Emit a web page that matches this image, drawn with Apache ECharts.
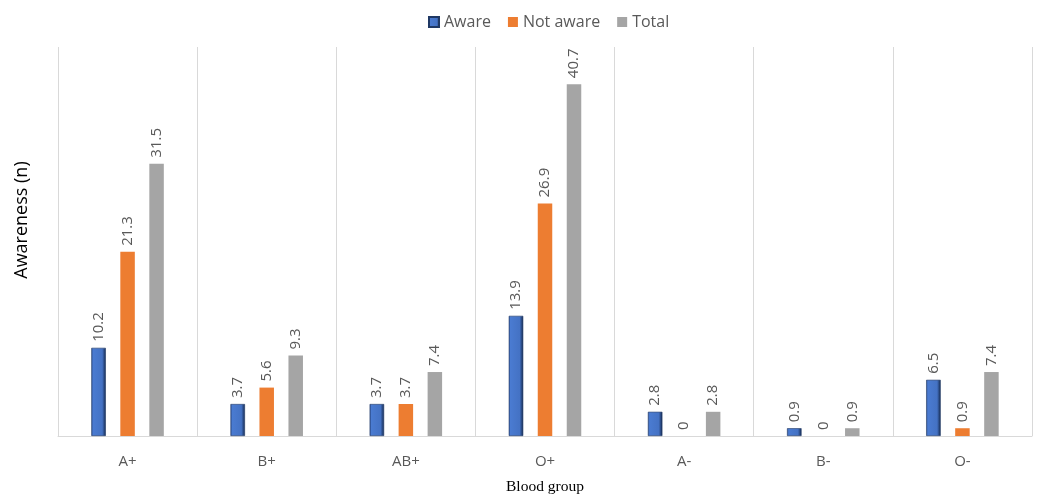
<!DOCTYPE html>
<html>
<head>
<meta charset="utf-8">
<script src="https://cdn.jsdelivr.net/npm/echarts@6/dist/echarts.min.js"></script>
<style>html,body{margin:0;padding:0;background:#fff;}#c{width:1040px;height:500px;}</style>
</head>
<body>
<div id="c"></div>
<script>
const categories = ['A+', 'B+', 'AB+', 'O+', 'A-', 'B-', 'O-'];
const aware = [10.2, 3.7, 3.7, 13.9, 2.8, 0.9, 6.5];
const notAware = [21.3, 5.6, 3.7, 26.9, 0, 0, 0.9];
const total = [31.5, 9.3, 7.4, 40.7, 2.8, 0.9, 7.4];

const chart = echarts.init(document.getElementById('c'));
const labelCfg = {
  show: true, position: 'top', rotate: 90, align: 'left', verticalAlign: 'middle',
  distance: 6, color: '#595959', fontSize: 15, fontFamily: 'Open Sans, sans-serif'
};
chart.setOption({
  animation: false,
  legend: {
    top: 9, left: 423, itemWidth: 10, itemHeight: 10, itemGap: 17,
    textStyle: { color: '#595959', fontSize: 16, fontFamily: 'Open Sans, sans-serif' },
    data: [
      { name: 'Aware', icon: 'rect' },
      { name: 'Not aware', icon: 'rect' },
      { name: 'Total', icon: 'rect' }
    ]
  },
  graphic: [{
    type: 'text', x: 22, y: 220, rotation: Math.PI / 2,
    style: {
      text: 'Awareness (n)', fill: '#000', fontSize: 18,
      fontFamily: 'Open Sans, sans-serif', align: 'center', verticalAlign: 'middle'
    }
  }],
  grid: { left: 58, right: 8, top: 47, bottom: 59, containLabel: false },
  xAxis: {
    type: 'category', data: categories,
    name: 'Blood group', nameLocation: 'middle', nameGap: 43,
    nameTextStyle: { color: '#000', fontSize: 15.5, fontFamily: 'Liberation Serif, serif' },
    axisLine: { lineStyle: { color: '#d9d9d9', width: 1 } },
    axisTick: { show: false },
    axisLabel: { color: '#595959', fontSize: 15, margin: 18, fontFamily: 'Open Sans, sans-serif' },
    splitLine: { show: true, lineStyle: { color: '#d9d9d9', width: 1 } }
  },
  yAxis: {
    type: 'value', min: 0, max: 45,
    axisLine: { show: false }, axisTick: { show: false }, axisLabel: { show: false },
    splitLine: { show: false }
  },
  series: [
    {
      name: 'Aware', type: 'bar', data: aware, barWidth: 14.5, barGap: '100%',
      itemStyle: {
        color: new echarts.graphic.LinearGradient(0, 0, 1, 0, [
          { offset: 0, color: '#2f4f8f' }, { offset: 0.12, color: '#4a7bd1' },
          { offset: 0.75, color: '#4472c4' }, { offset: 1, color: '#14284d' }
        ]),
        borderColor: '#1f3864', borderWidth: 0.6
      },
      label: labelCfg
    },
    {
      name: 'Not aware', type: 'bar', data: notAware, barWidth: 14.5, barGap: '100%',
      itemStyle: { color: '#ed7d31' },
      label: labelCfg
    },
    {
      name: 'Total', type: 'bar', data: total, barWidth: 14.5, barGap: '100%',
      itemStyle: { color: '#a5a5a5' },
      label: labelCfg
    }
  ]
});
</script>
</body>
</html>
